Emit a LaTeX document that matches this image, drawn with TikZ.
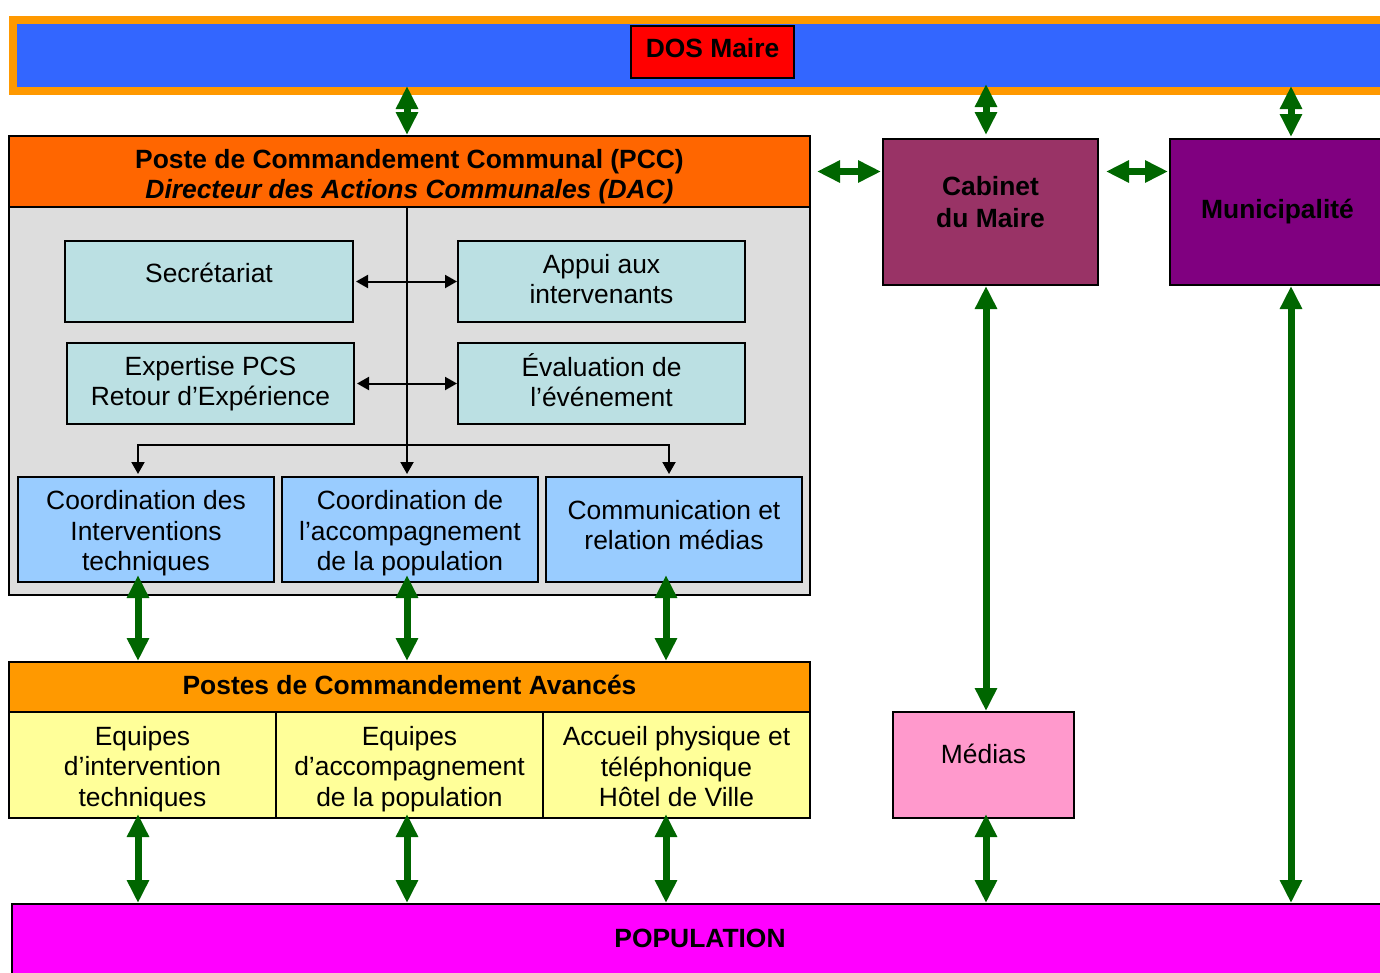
\documentclass[tikz,border=0pt]{standalone}
\usepackage{fontspec}
\setmainfont{Liberation Sans}
\usetikzlibrary{arrows.meta,calc}
\definecolor{barblue}{HTML}{3366FF}
\definecolor{barorange}{HTML}{FF9900}
\definecolor{hdrorange}{HTML}{FF6600}
\definecolor{grayzone}{HTML}{DDDDDD}
\definecolor{cyanbox}{HTML}{BBE0E3}
\definecolor{bluebox}{HTML}{99CCFF}
\definecolor{yellowbox}{HTML}{FFFF99}
\definecolor{cabcol}{HTML}{993366}
\definecolor{municol}{HTML}{800080}
\definecolor{medcol}{HTML}{FF99CC}
\definecolor{popcol}{HTML}{FF00FF}
\definecolor{dgreen}{HTML}{006600}
\newcommand{\diagfont}{\fontsize{26.4}{30}\selectfont}
\newcommand{\diagfontw}{\fontsize{26.4}{30.5}\selectfont}
\begin{document}
\begin{tikzpicture}[x=1pt,y=-1pt,
  box/.style={draw=black, line width=2pt, inner sep=0pt, align=center, font=\diagfont},
  txt/.style={inner sep=0pt, align=center, font=\diagfont},
  btxt/.style={inner sep=0pt, align=center, font=\diagfont\bfseries},
  garrow/.style={draw=dgreen, line width=7pt, {Triangle[length=23pt,width=21pt]}-{Triangle[length=23pt,width=21pt]}},
  barrow/.style={draw=black, line width=2pt, -{Triangle[length=12pt,width=13pt]}},
  bbarrow/.style={draw=black, line width=2pt, {Triangle[length=12pt,width=13pt]}-{Triangle[length=12pt,width=13pt]}}]
\useasboundingbox (0,0) rectangle (1380,972);

% top bar
\node[draw=barorange, line width=8pt, fill=barblue, minimum width=1381pt, minimum height=71pt, anchor=north west, inner sep=0pt] (top) at (9,16) {};
\node[box, fill=red, minimum width=163pt, minimum height=52pt] (dos) at (712.5,52) {};
\node[btxt] (dostxt) at ([yshift=4pt]dos.center) {DOS Maire};

% PCC
\node[box, fill=grayzone, minimum width=801pt, minimum height=388pt] (zone) at (409.5,401) {};
\node[box, fill=hdrorange, minimum width=801pt, minimum height=71pt] (hdr) at (409.5,171.5) {};
\node[btxt] (hdrtxt) at ([yshift=-5pt]hdr.center) {Poste de Commandement Communal (PCC)\\\itshape Directeur des Actions Communales (DAC)};

\node[box, fill=cyanbox, minimum width=288pt, minimum height=81pt] (sec) at (209,281.5) {};
\node[txt] (sectxt) at ([yshift=9pt]sec.center) {Secrétariat};
\node[box, fill=cyanbox, minimum width=287pt, minimum height=81pt] (app) at (601.5,281.5) {};
\node[txt] (apptxt) at ([yshift=2pt]app.center) {Appui aux\\intervenants};
\node[box, fill=cyanbox, minimum width=287pt, minimum height=81pt] (exp) at (210.5,383.5) {};
\node[txt] (exptxt) at (exp.center) {Expertise PCS\\Retour d’Expérience};
\node[box, fill=cyanbox, minimum width=287pt, minimum height=81pt] (eva) at (601.5,383.5) {};
\node[txt] (evatxt) at ([yshift=3pt]eva.center) {Évaluation de\\l’événement};

\node[box, fill=bluebox, minimum width=256pt, minimum height=105pt] (c1) at (146,529.5) {};
\node[txt, font=\diagfontw] (c1txt) at ([yshift=-4pt]c1.center) {Coordination des\\Interventions\\techniques};
\node[box, fill=bluebox, minimum width=256pt, minimum height=105pt] (c2) at (410,529.5) {};
\node[txt, font=\diagfontw] (c2txt) at ([yshift=-4pt]c2.center) {Coordination de\\l’accompagnement\\de la population};
\node[box, fill=bluebox, minimum width=256pt, minimum height=105pt] (c3) at (674,529.5) {};
\node[txt] (c3txt) at ([yshift=4pt]c3.center) {Communication et\\relation médias};

% PCA
\node[box, fill=barorange, minimum width=801pt, minimum height=50pt] (pca) at (409.5,687) {};
\node[btxt] (pcatxt) at ([yshift=2pt]pca.center) {Postes de Commandement Avancés};
\node[box, fill=yellowbox, minimum width=267pt, minimum height=106pt] (y1) at (142.5,765) {};
\node[txt, font=\diagfontw] (y1txt) at ([yshift=-4pt]y1.center) {Equipes\\d’intervention\\techniques};
\node[box, fill=yellowbox, minimum width=267pt, minimum height=106pt] (y2) at (409.5,765) {};
\node[txt, font=\diagfontw] (y2txt) at ([yshift=-4pt]y2.center) {Equipes\\d’accompagnement\\de la population};
\node[box, fill=yellowbox, minimum width=267pt, minimum height=106pt] (y3) at (676.5,765) {};
\node[txt, font=\diagfontw] (y3txt) at ([yshift=-2pt]y3.center) {Accueil physique et\\téléphonique\\Hôtel de Ville};

% right column
\node[box, fill=cabcol, minimum width=215pt, minimum height=146pt] (cab) at (990.5,212) {};
\node[btxt, font=\fontsize{26.4}{32}\selectfont\bfseries] (cabtxt) at ([yshift=10pt]cab.center) {Cabinet\\du Maire};
\node[box, fill=municol, minimum width=215pt, minimum height=146pt] (muni) at (1277.5,212) {};
\node[btxt] (munitxt) at (muni.center) {Municipalité};
\node[box, fill=medcol, minimum width=181pt, minimum height=106pt] (med) at (983.5,765) {};
\node[txt] (medtxt) at ([yshift=11pt]med.center) {Médias};

% population
\node[box, fill=popcol, minimum width=1373pt, minimum height=71pt] (pop) at (698.5,939.5) {};
\node[btxt] (poptxt) at (700,938) {POPULATION};

% x positions of vertical connectors
\coordinate (xA) at (138,0);
\coordinate (xB) at (407,0);
\coordinate (xC) at (666,0);
\coordinate (xK) at (986,0);
\coordinate (xM) at (1291,0);
\coordinate (jL) at (138,445);
\coordinate (jR) at (669,445);

% black connectors inside PCC
\draw[bbarrow] ([xshift=2pt]sec.east) -- (app.west);
\draw[bbarrow] ([xshift=2pt]exp.east) -- (eva.west |- exp.east);
\draw[barrow] (hdr.south -| xB) -- ([yshift=2pt]c2.north -| xB);
\draw[bbarrow] ([yshift=2pt]c1.north -| jL) |- (jR) -- ([yshift=2pt]c3.north -| jR);

% green connectors
\draw[garrow] ([yshift=9pt]top.south -| xB) -- (hdr.north -| xB);
\draw[garrow] ([yshift=11pt]top.south -| xK) -- ([yshift=3pt]cab.north -| xK);
\draw[garrow] ([yshift=9pt]top.south -| xM) -- ([yshift=1pt]muni.north -| xM);
\draw[garrow] ([xshift=6pt]hdr.east) -- ([xshift=-1pt]cab.west |- hdr.east);
\draw[garrow] ([xshift=7pt]cab.east |- hdr.east) -- ([xshift=-1pt]muni.west |- hdr.east);
\draw[garrow] (cab.south -| xK) -- (med.north -| xK);
\draw[garrow] ([yshift=5pt]med.south -| xK) -- (pop.north -| xK);
\draw[garrow] (muni.south -| xM) -- (pop.north -| xM);

\draw[garrow] ([yshift=8pt]c1.south -| xA) -- (pca.north -| xA);
\draw[garrow] ([yshift=8pt]c2.south -| xB) -- (pca.north -| xB);
\draw[garrow] ([yshift=8pt]c3.south -| xC) -- (pca.north -| xC);
\draw[garrow] ([yshift=5pt]y1.south -| xA) -- (pop.north -| xA);
\draw[garrow] ([yshift=5pt]y2.south -| xB) -- (pop.north -| xB);
\draw[garrow] ([yshift=5pt]y3.south -| xC) -- (pop.north -| xC);
\end{tikzpicture}
\end{document}
